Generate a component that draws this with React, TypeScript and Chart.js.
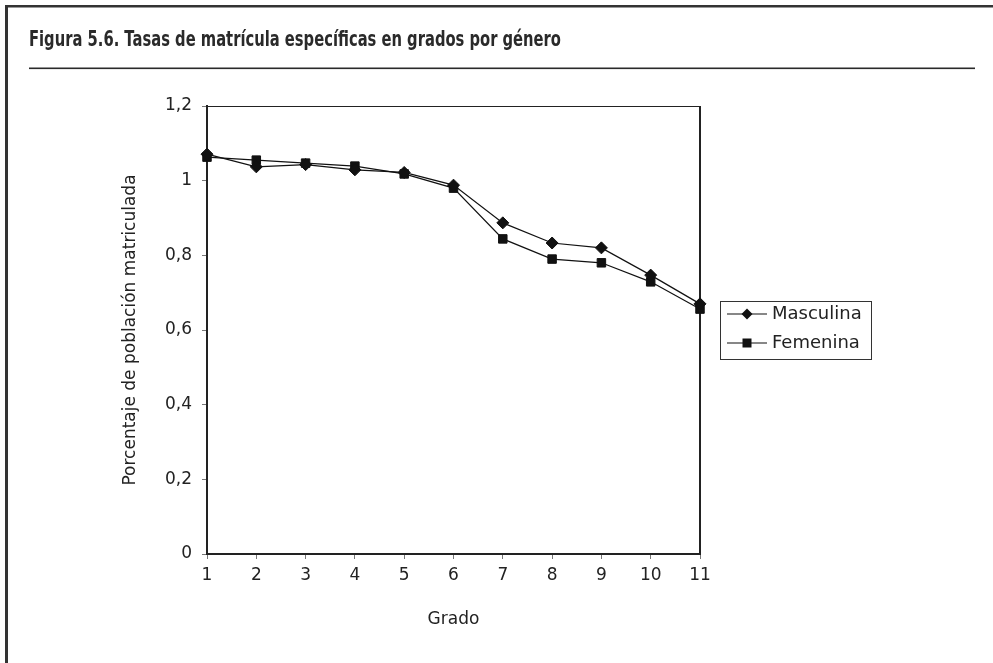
import React, { useEffect, useRef } from "react";
import { Chart, registerables } from "chart.js";

Chart.register(...registerables);

const categories = ["1", "2", "3", "4", "5", "6", "7", "8", "9", "10", "11"];
const masculina = [1.071, 1.037, 1.043, 1.029, 1.022, 0.988, 0.887, 0.833, 0.82, 0.747, 0.67];
const femenina = [1.063, 1.055, 1.047, 1.039, 1.018, 0.98, 0.844, 0.79, 0.78, 0.729, 0.656];
const seriesNames = ["Masculina", "Femenina"];
const titleText = "Figura 5.6. Tasas de matrícula específicas en grados por género";
const yTitle = "Porcentaje de población matriculada";
const xTitle = "Grado";

const FONT = '"DejaVu Sans", "Noto Sans", sans-serif';
const TITLE_FONT = 'bold 21px "DejaVu Sans", "Noto Sans", sans-serif';

const framePlugin = {
  id: "framePlugin",
  beforeDraw(chart: any) {
    const { ctx, width, height } = chart;
    ctx.save();
    ctx.fillStyle = "#ffffff";
    ctx.fillRect(0, 0, width, height);
    ctx.restore();
  },
  beforeDatasetsDraw(chart: any) {
    const { ctx, chartArea } = chart;
    const { left, right, top, bottom } = chartArea;
    ctx.save();
    ctx.strokeStyle = "#222";
    ctx.lineWidth = 1.2;
    ctx.beginPath();
    ctx.moveTo(left, top + 0.5);
    ctx.lineTo(right, top + 0.5);
    ctx.stroke();
    ctx.lineWidth = 2;
    ctx.beginPath();
    ctx.moveTo(right, top);
    ctx.lineTo(right, bottom);
    ctx.stroke();
    ctx.restore();
  },
  afterDraw(chart: any) {
    const { ctx, width, height } = chart;
    ctx.save();
    // page frame
    ctx.fillStyle = "#333";
    ctx.fillRect(5, 5, 3, height - 5);
    ctx.fillRect(5, 5, width - 5, 2.5);
    // title (condensed to the reference width)
    ctx.fillStyle = "#2a2a2a";
    ctx.font = TITLE_FONT;
    ctx.textAlign = "left";
    ctx.textBaseline = "alphabetic";
    const tw = ctx.measureText(titleText).width;
    const targetW = 532;
    ctx.save();
    ctx.translate(29, 46);
    ctx.scale(targetW / tw, 1);
    ctx.fillText(titleText, 0, 0);
    ctx.restore();
    // rule
    ctx.fillStyle = "#2a2a2a";
    ctx.fillRect(29, 67.5, 946, 1.6);

    // legend
    const lx = 720.5, ly = 301.5, lw = 151, lh = 58;
    ctx.strokeStyle = "#333";
    ctx.lineWidth = 1;
    ctx.strokeRect(lx, ly, lw, lh);
    const rows = [314, 343];
    chart.data.datasets.forEach((ds: any, i: number) => {
      const y = rows[i];
      ctx.strokeStyle = "#111";
      ctx.lineWidth = 1.2;
      ctx.beginPath();
      ctx.moveTo(727, y);
      ctx.lineTo(767, y);
      ctx.stroke();
      ctx.fillStyle = "#111";
      ctx.beginPath();
      if (ds.pointStyle === "rectRot") {
        ctx.moveTo(747, y - 5.5);
        ctx.lineTo(752.5, y);
        ctx.lineTo(747, y + 5.5);
        ctx.lineTo(741.5, y);
        ctx.closePath();
      } else {
        ctx.rect(742.5, y - 4.5, 9, 9);
      }
      ctx.fill();
      ctx.fillStyle = "#222";
      ctx.font = `18px ${FONT}`;
      ctx.textBaseline = "middle";
      ctx.fillText(ds.label, 772, y);
    });
    ctx.restore();
  },
};

export default function App() {
  const ref = useRef<HTMLCanvasElement | null>(null);
  useEffect(() => {
    if (!ref.current) return;
    const chart = new Chart(ref.current, {
      type: "line",
      data: {
        labels: categories,
        datasets: [
          {
            label: seriesNames[0],
            data: masculina,
            borderColor: "#111",
            backgroundColor: "#111",
            borderWidth: 1.2,
            pointStyle: "rectRot",
            pointRadius: 6,
            pointBorderWidth: 1,
            pointBackgroundColor: "#111",
            pointBorderColor: "#111",
            tension: 0,
          },
          {
            label: seriesNames[1],
            data: femenina,
            borderColor: "#111",
            backgroundColor: "#111",
            borderWidth: 1.2,
            pointStyle: "rect",
            pointRadius: 6,
            pointBorderWidth: 1,
            pointBackgroundColor: "#111",
            pointBorderColor: "#111",
            tension: 0,
          },
        ],
      },
      options: {
        responsive: false,
        animation: false,
        devicePixelRatio: 1,
        layout: { padding: { left: 116, top: 106, right: 293, bottom: 29 } },
        plugins: {
          legend: { display: false },
          tooltip: { enabled: false },
          title: { display: false },
        },
        scales: {
          x: {
            type: "category",
            offset: false,
            grid: {
              display: true,
              drawOnChartArea: false,
              drawTicks: true,
              tickLength: 5,
              color: "#777",
            },
            border: { display: true, color: "#222", width: 2 },
            ticks: {
              font: { family: FONT, size: 17 },
              color: "#222",
              padding: 6,
              maxRotation: 0,
              autoSkip: false,
            },
            title: {
              display: true,
              text: xTitle,
              font: { family: FONT, size: 17 },
              color: "#222",
              padding: { top: 4, bottom: 4 },
            },
            afterFit: (s: any) => {
              s.height = 80;
            },
          },
          y: {
            min: 0,
            max: 1.2,
            grid: {
              display: true,
              drawOnChartArea: false,
              drawTicks: true,
              tickLength: 5,
              color: "#777",
            },
            border: { display: true, color: "#222", width: 2 },
            ticks: {
              stepSize: 0.2,
              font: { family: FONT, size: 17 },
              color: "#222",
              padding: 10,
              callback: (v: any) => String(Math.round(Number(v) * 10) / 10).replace(".", ","),
            },
            title: {
              display: true,
              text: yTitle,
              font: { family: FONT, size: 17 },
              color: "#222",
              padding: { top: 4, bottom: 4 },
            },
            afterFit: (s: any) => {
              s.width = 91;
            },
          },
        },
      },
      plugins: [framePlugin],
    });
    return () => chart.destroy();
  }, []);
  return (
    <div style={{ position: "absolute", left: 0, top: 0, width: 993, height: 663, background: "#fff" }}>
      <canvas ref={ref} width={993} height={663} style={{ display: "block" }} />
    </div>
  );
}
